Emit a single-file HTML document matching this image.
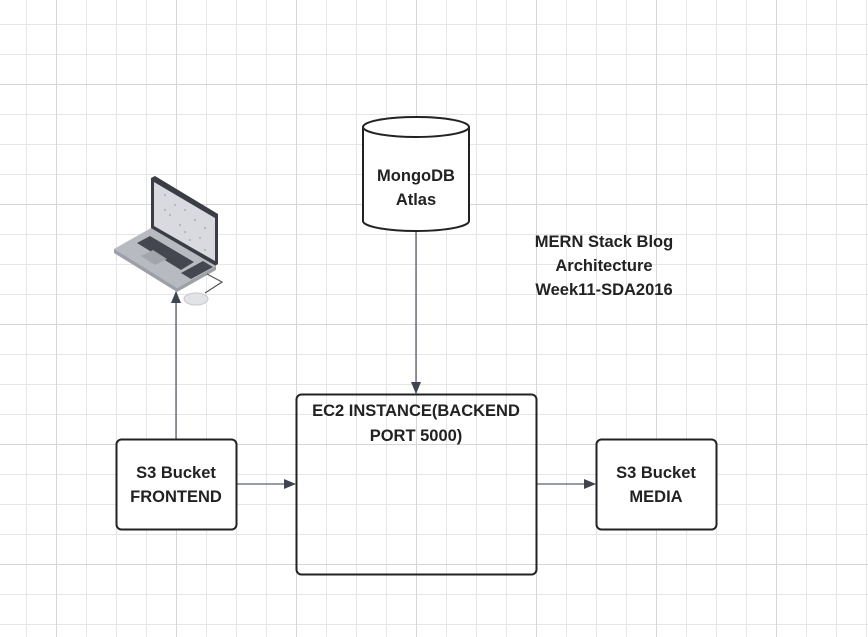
<!DOCTYPE html>
<html><head><meta charset="utf-8"><style>
html,body{margin:0;padding:0;background:#fff;}
svg{display:block;}
text{font-family:"Liberation Sans",Arial,sans-serif;font-weight:bold;font-size:16.5px;fill:#222;text-anchor:middle;}
</style></head><body>
<svg width="868" height="637" viewBox="0 0 868 637" xmlns="http://www.w3.org/2000/svg">
<defs>
<pattern id="g" x="26" y="24" width="30" height="30" patternUnits="userSpaceOnUse">
<path d="M0.5 0V30M0 0.5H30" stroke="#e6e6e6" stroke-width="1" fill="none"/>
</pattern>
<pattern id="G" x="56" y="84" width="120" height="120" patternUnits="userSpaceOnUse">
<path d="M0.5 0V120M0 0.5H120" stroke="#d6d6d6" stroke-width="1" fill="none"/>
</pattern>
<marker id="a" markerWidth="12" markerHeight="10" refX="11" refY="5" orient="auto" markerUnits="userSpaceOnUse">
<path d="M0 0L12 5L0 10z" fill="#3e4450"/>
</marker>
</defs>
<rect width="868" height="637" fill="url(#g)"/>
<rect width="868" height="637" fill="url(#G)"/>

<line x1="176" y1="439" x2="176" y2="292" stroke="#5a6070" stroke-width="1.3" marker-end="url(#a)"/>
<line x1="416" y1="231" x2="416" y2="393" stroke="#5a6070" stroke-width="1.3" marker-end="url(#a)"/>
<line x1="236" y1="484" x2="295" y2="484" stroke="#5a6070" stroke-width="1.3" marker-end="url(#a)"/>
<line x1="536" y1="484" x2="595" y2="484" stroke="#5a6070" stroke-width="1.3" marker-end="url(#a)"/>

<rect x="296.5" y="394.5" width="240" height="180" rx="5" fill="none" stroke="#222" stroke-width="2"/>
<text x="416" y="416">EC2 INSTANCE(BACKEND</text>
<text x="416" y="441">PORT 5000)</text>

<rect x="116.5" y="439.5" width="120" height="90" rx="5" fill="#fff" stroke="#222" stroke-width="2"/>
<text x="176" y="478">S3 Bucket</text>
<text x="176" y="502">FRONTEND</text>

<rect x="596.5" y="439.5" width="120" height="90" rx="5" fill="#fff" stroke="#222" stroke-width="2"/>
<text x="656" y="478">S3 Bucket</text>
<text x="656" y="502">MEDIA</text>

<path d="M363 127V221A53 10 0 0 0 469 221V127" fill="#fff" stroke="#222" stroke-width="2"/>
<ellipse cx="416" cy="127" rx="53" ry="10" fill="#fff" stroke="#222" stroke-width="2"/>
<text x="416" y="181">MongoDB</text>
<text x="416" y="205">Atlas</text>

<text x="604" y="247">MERN Stack Blog</text>
<text x="604" y="271">Architecture</text>
<text x="604" y="295">Week11-SDA2016</text>

<!-- laptop -->
<g>
<polygon points="151,178 155,176 218,214 218,264 215,266 151,229" fill="#3a3d45"/>
<polygon points="154,182 215,218 215,261 154,226" fill="#d9dadf"/>
<polygon points="114,249 151,228 216,266 177,288 114,253" fill="#b8bac1"/>
<polygon points="114,253 177,292 216,270 216,266 177,288 114,249" fill="#9ea0a8"/>
<polygon points="137,243 150,236 194,262 181,270" fill="#44474f"/>
<polygon points="141,256 153,250 167,259 155,265" fill="#a3a5ac"/>
<polygon points="181,273 203,261 213,267 191,279" fill="#44474f"/>
<path d="M207 274L222 282L205 293" stroke="#555" stroke-width="1.2" fill="none"/>
<ellipse cx="196" cy="299" rx="12" ry="6" fill="#e2e3e6" stroke="#c8c9cd"/>
<g fill="#a0a0a6">
<circle cx="165" cy="195" r="0.9"/><circle cx="175" cy="205" r="0.9"/><circle cx="185" cy="210" r="0.9"/><circle cx="195" cy="220" r="0.9"/><circle cx="170" cy="215" r="0.9"/><circle cx="180" cy="225" r="0.9"/><circle cx="200" cy="238" r="0.9"/><circle cx="190" cy="240" r="0.9"/><circle cx="205" cy="250" r="0.9"/><circle cx="165" cy="210" r="0.9"/><circle cx="205" cy="228" r="0.9"/><circle cx="185" cy="232" r="0.9"/>
</g>
</g>
</svg>
</body></html>
